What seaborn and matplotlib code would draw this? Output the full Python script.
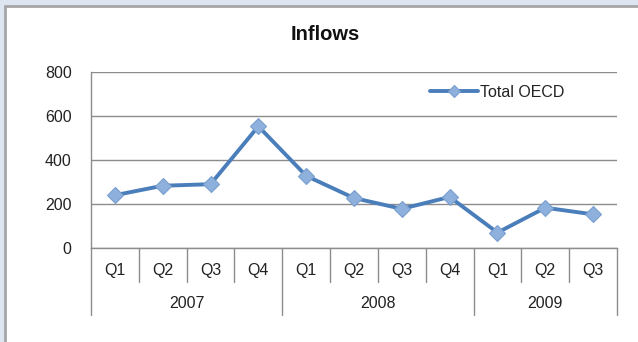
import matplotlib
matplotlib.use("Agg")
import matplotlib.pyplot as plt
import matplotlib.transforms as mtransforms
from matplotlib.patches import Rectangle
from matplotlib.lines import Line2D
import seaborn as sns
import pandas as pd

years = ["2007", "2008", "2009"]
quarters_per_year = [["Q1", "Q2", "Q3", "Q4"], ["Q1", "Q2", "Q3", "Q4"], ["Q1", "Q2", "Q3"]]
total_oecd = [240, 283, 290, 553, 328, 227, 178, 232, 70, 183, 153]
series_name = "Total OECD"
y_ticks = [0, 200, 400, 600, 800]

sns.set_theme(style="white")
plt.rcParams["font.family"] = ["Liberation Sans", "DejaVu Sans"]

labels = []
quarter_labels = []
for y, qs in zip(years, quarters_per_year):
    for q in qs:
        labels.append(f"{y} {q}")
        quarter_labels.append(q)
df = pd.DataFrame({"period": labels, "value": total_oecd, "series": series_name})

fig = plt.figure(figsize=(6.38, 3.42), dpi=100)
fig.patch.set_facecolor("#dce5f0")
# white panel with gray left/top border
fig.patches.append(Rectangle((5/638, -0.01), 1.0, 1 - 6/342 + 0.01, transform=fig.transFigure,
                             facecolor="white", edgecolor="none", zorder=-10))
fig.lines.append(Line2D([5/638, 5/638], [0, 1 - 6/342], transform=fig.transFigure,
                        color="#a6a6a6", lw=2.0, zorder=-9))
fig.lines.append(Line2D([5/638, 1.0], [1 - 6/342, 1 - 6/342], transform=fig.transFigure,
                        color="#a6a6a6", lw=2.0, zorder=-9))

ax = fig.add_axes([91/638, 1 - 248/342, (617 - 91)/638, (248 - 72)/342])
ax.set_facecolor("none")

sns.lineplot(data=df, x="period", y="value", hue="series", palette=["#4a7ebb"], ax=ax,
             sort=False, lw=2.8, marker="D", markersize=8.5,
             markerfacecolor="#8db0dc", markeredgecolor="#7a9fcf", markeredgewidth=0.8)

ax.set_xlim(-0.5, len(labels) - 0.5)
ax.set_ylim(0, 800)
ax.set_yticks(y_ticks)
ax.tick_params(axis="y", length=0, pad=14, labelsize=11.5, labelcolor="#222222")
ax.set_xticks(range(len(labels)))
ax.set_xticklabels([])
ax.tick_params(axis="x", length=0)
ax.set_xlabel("")
ax.set_ylabel("")
ax.grid(axis="y", color="#8c8c8c", lw=1.0)
ax.grid(axis="x", visible=False)
for s in ["top", "right"]:
    ax.spines[s].set_visible(False)
for s in ["left", "bottom"]:
    ax.spines[s].set_color("#8c8c8c")
    ax.spines[s].set_linewidth(1.0)

trans = mtransforms.blended_transform_factory(ax.transData, ax.transAxes)
sep_color = "#8c8c8c"
# quarter labels and separators
for i, q in enumerate(quarter_labels):
    ax.text(i, -0.125, q, transform=trans, ha="center", va="center", fontsize=11.5, color="#222222")
start = 0
year_bounds = [-0.5]
for qs in quarters_per_year:
    for k in range(1, len(qs)):
        x = start + k - 0.5
        ax.plot([x, x], [0, -0.193], transform=trans, color=sep_color, lw=1.0, clip_on=False)
    start += len(qs)
    year_bounds.append(start - 0.5)
for x in year_bounds:
    ax.plot([x, x], [0, -0.381], transform=trans, color=sep_color, lw=1.0, clip_on=False)
for y, a, b in zip(years, year_bounds[:-1], year_bounds[1:]):
    ax.text((a + b) / 2, -0.3125, y, transform=trans, ha="center", va="center", fontsize=11.5, color="#222222")

leg = ax.legend(loc="upper left", bbox_to_anchor=((430 - 91)/526, 1 - (85 - 72)/176), frameon=False,
                fontsize=11.5, handlelength=3.0, handletextpad=0.1, borderpad=0, borderaxespad=0)
for t in leg.get_texts():
    t.set_color("#222222")
for h in leg.legend_handles:
    h.set_markersize(6)

fig.text(325/638, 1 - 35/342, "Inflows", ha="center", va="center", fontsize=14.5,
         fontweight="bold", color="#111111")

fig.savefig("out.png", dpi=100, facecolor=fig.get_facecolor())
